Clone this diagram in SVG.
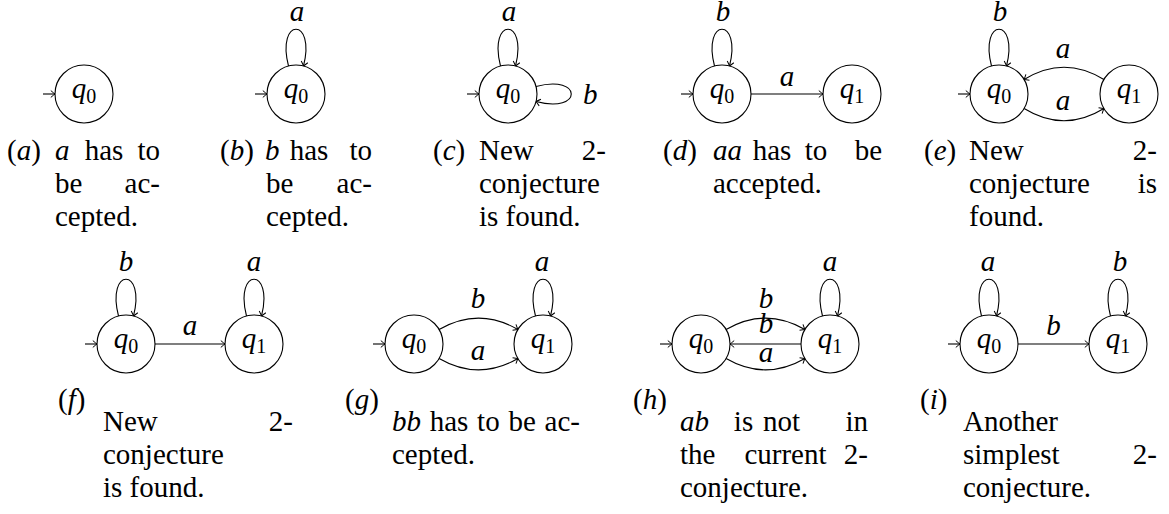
<svg xmlns="http://www.w3.org/2000/svg" width="1169" height="514" viewBox="0 0 1169 514">
<defs>
<marker id="ah" viewBox="-6 -5 7 10" refX="0" refY="0" markerWidth="7" markerHeight="10" orient="auto" markerUnits="userSpaceOnUse">
<path d="M-4.2,-3.4 Q-1.3,-0.9 0,0 Q-1.3,0.9 -4.2,3.4" fill="none" stroke="#000" stroke-width="1"/>
</marker>
<style>
.st circle{fill:#fff;stroke:#000;stroke-width:1.1}
.cn path{fill:none;stroke:#000;stroke-width:1.1;marker-end:url(#ah)}
text{font-family:"Liberation Serif","Times New Roman",serif;font-size:29px;fill:#000}
.i{font-style:italic}
.s{font-size:20px;font-style:normal}
.m{text-anchor:middle}
.r{text-anchor:end}
</style>
</defs>
<rect width="1169" height="514" fill="#fff"/>

<g id="connectors" class="cn">
<path d="M43,94 L55,94"/>
<path d="M255,94 L267,94"/>
<path d="M467,94 L479,94"/>
<path d="M681,94 L693,94"/>
<path d="M958,94 L970,94"/>
<path d="M85,344 L97,344"/>
<path d="M373,344 L385,344"/>
<path d="M660,344 L672,344"/>
<path d="M948,344 L960,344"/>
<path d="M288.5,66 C276,17 316,17 303.5,66"/>
<path d="M500.5,66 C488,17 528,17 515.5,66"/>
<path d="M536,86.5 C583,74 583,114 536,101.5"/>
<path d="M714.5,66 C702,17 742,17 729.5,66"/>
<path d="M991.5,66 C979,17 1019,17 1006.5,66"/>
<path d="M751,94 L823,94"/>
<path d="M1103.9,79.5 C1077.1,63 1050.9,63 1024.1,79.5"/>
<path d="M1024.1,108.5 C1050.9,125 1077.1,125 1103.9,108.5"/>
<path d="M118.5,316 C106,267 146,267 133.5,316"/>
<path d="M246.5,316 C234,267 274,267 261.5,316"/>
<path d="M535.5,316 C523,267 563,267 550.5,316"/>
<path d="M822.5,316 C810,267 850,267 837.5,316"/>
<path d="M981.5,316 C969,267 1009,267 996.5,316"/>
<path d="M1110.5,316 C1098,267 1138,267 1125.5,316"/>
<path d="M155,344 L225,344"/>
<path d="M439.1,329.5 C465.9,314 491.1,314 517.9,329.5"/>
<path d="M439.1,358.5 C465.9,374 491.1,374 517.9,358.5"/>
<path d="M726.1,329.5 C752.9,314 778.1,314 804.9,329.5"/>
<path d="M801,344 L730,344"/>
<path d="M726.1,358.5 C752.9,374 778.1,374 804.9,358.5"/>
<path d="M1018,344 L1089,344"/>
</g>

<g id="edge-labels" class="i m">
<text x="297" y="21">a</text>
<text x="509" y="21">a</text>
<text x="583" y="104" style="text-anchor:start">b</text>
<text x="723" y="21">b</text>
<text x="787" y="86">a</text>
<text x="1000" y="21">b</text>
<text x="1063" y="58">a</text>
<text x="1063" y="110">a</text>
<text x="126" y="271">b</text>
<text x="254" y="271">a</text>
<text x="190" y="335">a</text>
<text x="542" y="271">a</text>
<text x="478" y="308">b</text>
<text x="478" y="360">a</text>
<text x="830" y="271">a</text>
<text x="766" y="308">b</text>
<text x="766" y="333">b</text>
<text x="766" y="362">a</text>
<text x="988" y="271">a</text>
<text x="1120" y="271">b</text>
<text x="1053.5" y="335">b</text>
</g>

<g id="a-q0" class="st"><circle cx="84" cy="94" r="29"/><text class="m" x="84" y="98"><tspan class="i">q</tspan><tspan class="s" dy="4.5">0</tspan></text></g>
<g id="b-q0" class="st"><circle cx="296" cy="94" r="29"/><text class="m" x="296" y="98"><tspan class="i">q</tspan><tspan class="s" dy="4.5">0</tspan></text></g>
<g id="c-q0" class="st"><circle cx="508" cy="94" r="29"/><text class="m" x="508" y="98"><tspan class="i">q</tspan><tspan class="s" dy="4.5">0</tspan></text></g>
<g id="d-q0" class="st"><circle cx="722" cy="94" r="29"/><text class="m" x="722" y="98"><tspan class="i">q</tspan><tspan class="s" dy="4.5">0</tspan></text></g>
<g id="d-q1" class="st"><circle cx="852" cy="94" r="29"/><text class="m" x="852" y="98"><tspan class="i">q</tspan><tspan class="s" dy="4.5">1</tspan></text></g>
<g id="e-q0" class="st"><circle cx="999" cy="94" r="29"/><text class="m" x="999" y="98"><tspan class="i">q</tspan><tspan class="s" dy="4.5">0</tspan></text></g>
<g id="e-q1" class="st"><circle cx="1129" cy="94" r="29"/><text class="m" x="1129" y="98"><tspan class="i">q</tspan><tspan class="s" dy="4.5">1</tspan></text></g>
<g id="f-q0" class="st"><circle cx="126" cy="344" r="29"/><text class="m" x="126" y="348"><tspan class="i">q</tspan><tspan class="s" dy="4.5">0</tspan></text></g>
<g id="f-q1" class="st"><circle cx="254" cy="344" r="29"/><text class="m" x="254" y="348"><tspan class="i">q</tspan><tspan class="s" dy="4.5">1</tspan></text></g>
<g id="g-q0" class="st"><circle cx="414" cy="344" r="29"/><text class="m" x="414" y="348"><tspan class="i">q</tspan><tspan class="s" dy="4.5">0</tspan></text></g>
<g id="g-q1" class="st"><circle cx="543" cy="344" r="29"/><text class="m" x="543" y="348"><tspan class="i">q</tspan><tspan class="s" dy="4.5">1</tspan></text></g>
<g id="h-q0" class="st"><circle cx="701" cy="344" r="29"/><text class="m" x="701" y="348"><tspan class="i">q</tspan><tspan class="s" dy="4.5">0</tspan></text></g>
<g id="h-q1" class="st"><circle cx="830" cy="344" r="29"/><text class="m" x="830" y="348"><tspan class="i">q</tspan><tspan class="s" dy="4.5">1</tspan></text></g>
<g id="i-q0" class="st"><circle cx="989" cy="344" r="29"/><text class="m" x="989" y="348"><tspan class="i">q</tspan><tspan class="s" dy="4.5">0</tspan></text></g>
<g id="i-q1" class="st"><circle cx="1118" cy="344" r="29"/><text class="m" x="1118" y="348"><tspan class="i">q</tspan><tspan class="s" dy="4.5">1</tspan></text></g>

<g id="captions">
<text x="7" y="160">(<tspan class="i">a</tspan>)</text>
<text x="55" y="160" class="i">a</text><text x="104" y="160" class="m">has</text><text x="160" y="160" class="r">to</text>
<text x="55" y="193">be</text><text x="160" y="193" class="r">ac-</text>
<text x="55" y="226">cepted.</text>

<text x="220" y="160">(<tspan class="i">b</tspan>)</text>
<text x="265" y="160" class="i">b</text><text x="309" y="160" class="m">has</text><text x="372" y="160" class="r">to</text>
<text x="266" y="193">be</text><text x="372" y="193" class="r">ac-</text>
<text x="266" y="226">cepted.</text>

<text x="433" y="160">(<tspan class="i">c</tspan>)</text>
<text x="479" y="160">New</text><text x="606" y="160" class="r">2-</text>
<text x="479" y="193">conjecture</text>
<text x="479" y="226">is found.</text>

<text x="663" y="160">(<tspan class="i">d</tspan>)</text>
<text x="713" y="160" class="i">aa</text><text x="772" y="160" class="m">has</text><text x="816" y="160" class="m">to</text><text x="882" y="160" class="r">be</text>
<text x="713" y="193">accepted.</text>

<text x="924" y="160">(<tspan class="i">e</tspan>)</text>
<text x="969" y="160">New</text><text x="1157" y="160" class="r">2-</text>
<text x="969" y="193">conjecture</text><text x="1157" y="193" class="r">is</text>
<text x="969" y="226">found.</text>

<text x="58" y="409">(<tspan class="i">f</tspan>)</text>
<text x="103" y="431">New</text><text x="293" y="431" class="r">2-</text>
<text x="103" y="464">conjecture</text>
<text x="103" y="497">is found.</text>

<text x="345" y="409">(<tspan class="i">g</tspan>)</text>
<text x="392" y="431" class="i">bb</text><text x="429.7" y="431">has</text><text x="477.1" y="431">to</text><text x="508.4" y="431">be</text><text x="580" y="431" class="r">ac-</text>
<text x="392" y="464">cepted.</text>

<text x="633" y="409">(<tspan class="i">h</tspan>)</text>
<text x="680" y="431" class="i">ab</text><text x="743.5" y="431" class="m">is</text><text x="781.5" y="431" class="m">not</text><text x="868" y="431" class="r">in</text>
<text x="680" y="464">the</text><text x="785.5" y="464" class="m">current</text><text x="868" y="464" class="r">2-</text>
<text x="680" y="497">conjecture.</text>

<text x="920" y="409">(<tspan class="i">i</tspan>)</text>
<text x="963" y="431">Another</text>
<text x="963" y="464">simplest</text><text x="1157" y="464" class="r">2-</text>
<text x="963" y="497">conjecture.</text>
</g>
</svg>
